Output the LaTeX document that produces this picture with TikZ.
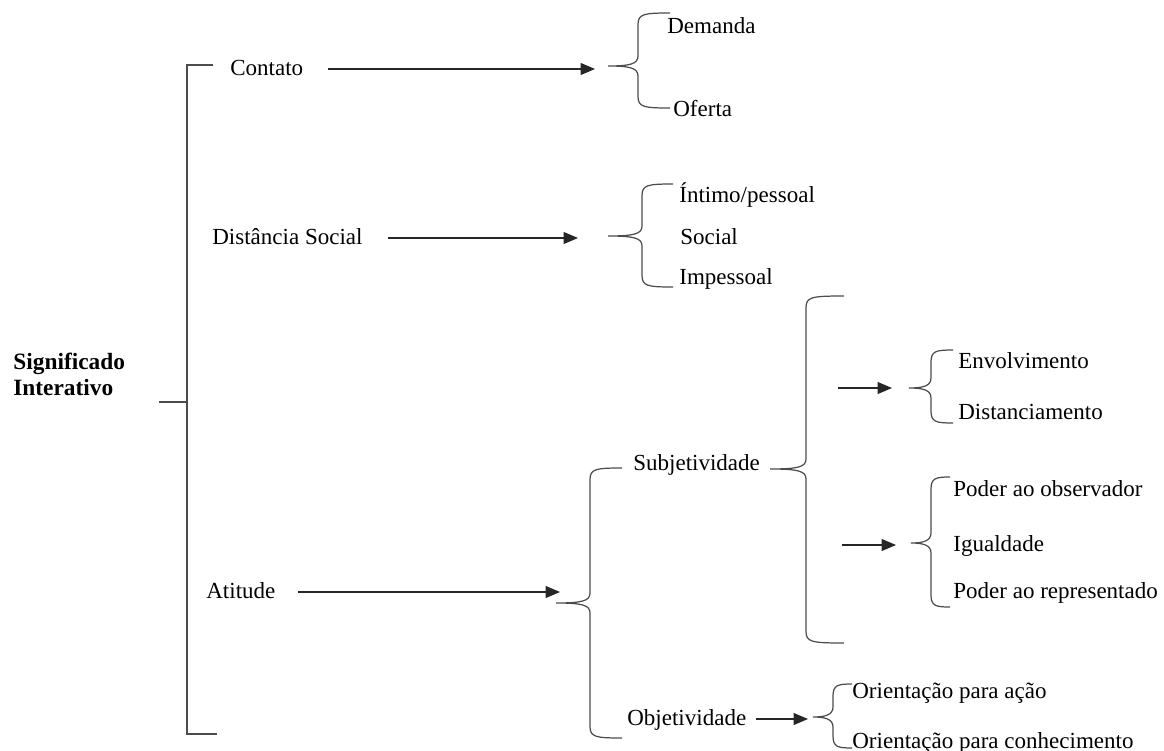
\documentclass[tikz,border=0pt]{standalone}
\usepackage{fontspec}
\setmainfont{Liberation Serif}
\usetikzlibrary{arrows.meta,positioning,calc}

% curly brace as drawn by a word processor: tip x, tip y, spine x, top y, bottom y, end x
\newcommand{\wordbrace}[6]{%
  \draw[brc] (#6,#4) .. controls (#3+5,#4) and (#3,#4+1) .. (#3,#4+12)
    -- (#3,#2-10) .. controls (#3,#2-2) and (#3-8,#2) .. (#1,#2)
    .. controls (#3-8,#2) and (#3,#2+2) .. (#3,#2+10)
    -- (#3,#5-12) .. controls (#3,#5-1) and (#3+5,#5) .. (#6,#5);}

\begin{document}
\begin{tikzpicture}[x=0.02cm, y=-0.02cm,
  lbl/.style={anchor=west, inner sep=0pt, font=\fontsize{13.1}{15.6}\selectfont, text height=1.6ex, text depth=0pt},
  title/.style={anchor=north west, inner sep=0pt, align=left, font=\fontsize{13.3}{14.8}\selectfont\bfseries},
  arr/.style={-{Triangle[length=0.29cm, width=0.24cm]}, line width=0.7pt, black!85},
  brc/.style={line width=0.7pt, black!70}
]
  \useasboundingbox (0,0) rectangle (1164,751);

  \node[title] (signif) at (13,353) {Significado\\Interativo};

  % first level
  \node[lbl] (contato) at (230,69) {Contato};
  \node[lbl] (distancia) at (212,238) {Distância Social};
  \node[lbl] (atitude) at (206,592) {Atitude};

  \draw[brc] (213,65) -- (187,65) -- (187,734) -- (217,734);
  \draw[brc] (159,402) -- (187,402);

  % contato
  \node[lbl] (demanda) at (667,27) {Demanda};
  \node[lbl] (oferta) at (673,110) {Oferta};
  \coordinate (tipcontato) at (595,69);
  \draw[arr, shorten <=0.48cm] (contato) -- (tipcontato);
  \wordbrace{608}{66}{638}{13}{108}{670}

  % distancia social
  \node[lbl] (intimo) at (679,196) {Íntimo/pessoal};
  \node[lbl] (social) at (680,238) {Social};
  \node[lbl] (impessoal) at (679,278) {Impessoal};
  \coordinate (tipdist) at (578,238);
  \draw[arr, shorten <=0.5cm] (distancia) -- (tipdist);
  \wordbrace{608}{236}{642}{184}{287}{673}

  % atitude
  \node[lbl] (subj) at (633,464) {Subjetividade};
  \node[lbl] (objet) at (627,719) {Objetividade};
  \coordinate (tipatit) at (560,592);
  \draw[arr, shorten <=0.44cm] (atitude) -- (tipatit);
  \wordbrace{556}{603}{590}{468}{738}{622}

  % subjetividade
  \wordbrace{770}{469}{806}{296}{643}{844}

  \node[lbl] (envolv) at (958,362) {Envolvimento};
  \node[lbl] (distanc) at (958,413) {Distanciamento};
  \coordinate (envfrom) at (838,388);
  \coordinate (envto) at (892,388);
  \draw[arr] (envfrom) -- (envto);
  \wordbrace{909}{388}{931}{350}{423}{953}

  \node[lbl] (poderobs) at (953,490) {Poder ao observador};
  \node[lbl] (igualdade) at (953,545) {Igualdade};
  \node[lbl] (poderrep) at (953,592) {Poder ao representado};
  \coordinate (podfrom) at (842,545);
  \coordinate (podto) at (896,545);
  \draw[arr] (podfrom) -- (podto);
  \wordbrace{911}{543}{931}{477}{607}{950}

  % objetividade
  \node[lbl] (oracao) at (852,692) {Orientação para ação};
  \node[lbl] (orconhec) at (852,742) {Orientação para conhecimento};
  \coordinate (tipobj) at (808,719);
  \draw[arr, shorten <=0.18cm] (objet) -- (tipobj);
  \wordbrace{813}{717}{833}{684}{748}{852}
\end{tikzpicture}
\end{document}
